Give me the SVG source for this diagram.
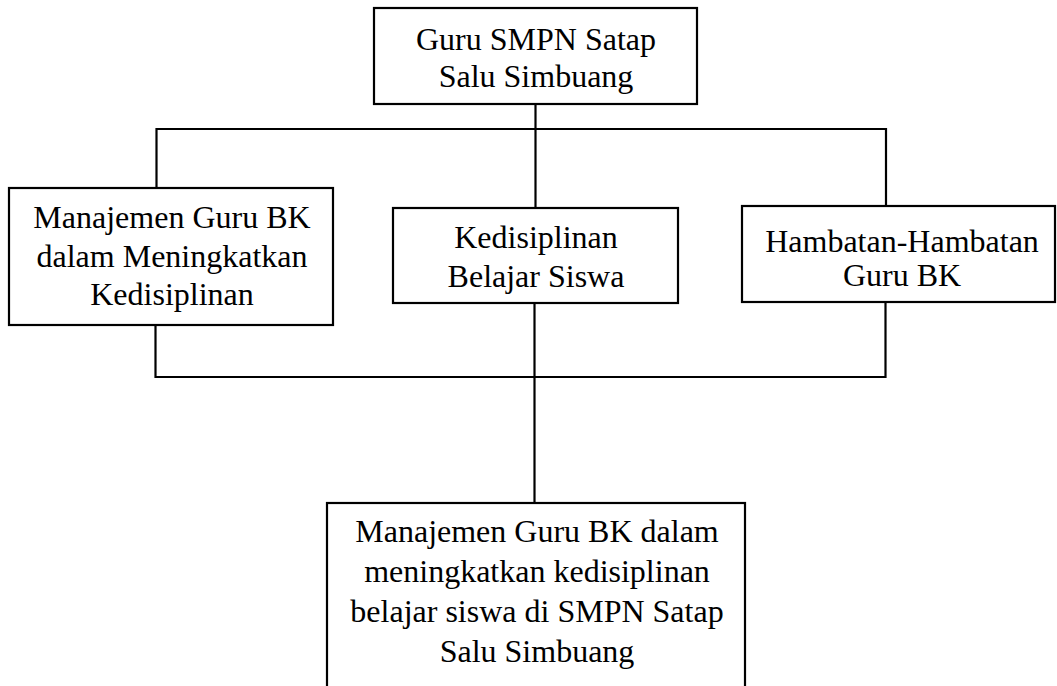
<svg xmlns="http://www.w3.org/2000/svg" width="1057" height="686" viewBox="0 0 1057 686">
<style>
.box{fill:#fff;stroke:#000;stroke-width:2.2}
.ln{fill:none;stroke:#000;stroke-width:2.2}
text{font-family:"Liberation Serif","Times New Roman",serif;font-size:32px;fill:#000;text-anchor:middle}
</style>
<rect width="1057" height="686" fill="#fff"/>
<g id="connectors">
<line class="ln" x1="535.5" y1="104" x2="535.5" y2="208"/>
<polyline class="ln" points="156.5,188 156.5,129 886,129 886,206"/>
<polyline class="ln" points="155.5,325 155.5,377 885.5,377 885.5,302"/>
<line class="ln" x1="534.5" y1="303" x2="534.5" y2="503"/>
</g>
<g id="top">
<rect class="box" x="374" y="8" width="323" height="96"/>
<text x="536" y="50">Guru SMPN Satap</text>
<text x="536" y="87">Salu Simbuang</text>
</g>
<g id="left">
<rect class="box" x="9" y="188" width="324" height="137"/>
<text x="172" y="228">Manajemen Guru BK</text>
<text x="172" y="267">dalam Meningkatkan</text>
<text x="172" y="305">Kedisiplinan</text>
</g>
<g id="middle">
<rect class="box" x="393" y="208" width="285" height="95"/>
<text x="536" y="248">Kedisiplinan</text>
<text x="536" y="287">Belajar Siswa</text>
</g>
<g id="right">
<rect class="box" x="742" y="206" width="313" height="96"/>
<text x="902" y="252">Hambatan-Hambatan</text>
<text x="902" y="286">Guru BK</text>
</g>
<g id="bottom">
<rect class="box" x="327" y="503" width="418" height="200"/>
<text x="537" y="542">Manajemen Guru BK dalam</text>
<text x="537" y="582">meningkatkan kedisiplinan</text>
<text x="537" y="622">belajar siswa di SMPN Satap</text>
<text x="537" y="662">Salu Simbuang</text>
</g>
</svg>
